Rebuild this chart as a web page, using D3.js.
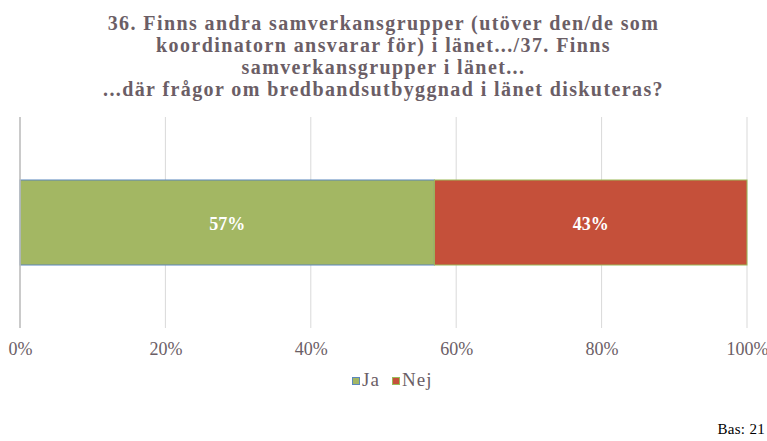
<!DOCTYPE html>
<html><head><meta charset="utf-8">
<script src="https://cdn.jsdelivr.net/npm/d3@7"></script>
<style>
body{margin:0;background:#fff}
svg{display:block}
</style>
</head><body>
<svg id="c" width="767" height="441" font-family="Liberation Serif"></svg>
<script>
const categories = ["Q36/37"];
const seriesNames = ["Ja", "Nej"];
const seriesValues = [[57], [43]];
const tickValues = [0, 20, 40, 60, 80, 100];
const tickLabels = ["0%", "20%", "40%", "60%", "80%", "100%"];
const titleLines = [
  "36. Finns andra samverkansgrupper (utöver den/de som",
  "koordinatorn ansvarar för) i länet.../37. Finns",
  "samverkansgrupper i länet...",
  "...där frågor om bredbandsutbyggnad i länet diskuteras?"
];
const baseText = "Bas: 21";

const fills = ["#A3B763", "#C5503A"];
const strokes = ["#5B87BD", "#9BBB59"];
const textCol = "#6B5E66";

const svg = d3.select("#c");
const x = d3.scaleLinear().domain([0, 100]).range([20, 747]);
const y = d3.scaleBand().domain(categories).range([117, 328]).paddingInner(0).paddingOuter(0.741);

function serif(sel, size, bold, spacing) {
  sel.attr("font-family", "Liberation Serif")
     .style("font-family", '"Liberation Serif"')
     .style("font-size", size + "px");
  if (bold) sel.style("font-weight", "bold");
  if (spacing) sel.style("letter-spacing", spacing + "px");
  return sel;
}

// title
const title = svg.append("g").selectAll("text").data(titleLines).join("text")
  .attr("x", 383.5).attr("y", (d, i) => 30 + i * 22)
  .attr("text-anchor", "middle")
  .attr("fill", textCol).text(d => d);
serif(title, 20, true, 1.4);

// grid
svg.append("g").selectAll("line").data(tickValues).join("line")
  .attr("x1", d => x(d)).attr("x2", d => x(d))
  .attr("y1", 117).attr("y2", 328)
  .attr("stroke", "#D9D9D9").attr("stroke-width", 1);

// stacked bars
const stackData = categories.map((c, ci) => {
  const o = { cat: c };
  seriesNames.forEach((s, si) => o[s] = seriesValues[si][ci]);
  return o;
});
const stacked = d3.stack().keys(seriesNames)(stackData);
const bh = y.bandwidth();

stacked.forEach((layer, si) => {
  const g = svg.append("g");
  g.selectAll("rect").data(layer).join("rect")
    .attr("x", d => x(d[0])).attr("width", d => x(d[1]) - x(d[0]))
    .attr("y", d => y(d.data.cat)).attr("height", bh)
    .attr("fill", fills[si]).attr("stroke", strokes[si]).attr("stroke-width", 1);
  const lab = g.selectAll("text").data(layer).join("text")
    .attr("x", d => (x(d[0]) + x(d[1])) / 2)
    .attr("y", d => y(d.data.cat) + bh / 2 + 7)
    .attr("text-anchor", "middle")
    .attr("fill", "#fff").text(d => Math.round(d[1] - d[0]) + "%");
  serif(lab, 18, true);
});

// category axis line
svg.append("line").attr("x1", 20).attr("x2", 20).attr("y1", 117).attr("y2", 328)
  .attr("stroke", "#BFBFBF").attr("stroke-width", 1.5);

// x axis labels
const axis = d3.axisBottom(x).tickValues(tickValues).tickFormat((d, i) => tickLabels[i]).tickSize(0).tickPadding(0);
const ax = svg.append("g").attr("transform", "translate(0,342)").call(axis);
ax.select(".domain").remove();
ax.attr("font-family", "Liberation Serif").attr("font-size", 18);
serif(ax.selectAll("text").attr("fill", textCol), 18, false);

// legend
const legend = svg.append("g");
const legX = [352, 392];
seriesNames.forEach((n, i) => {
  legend.append("rect").attr("x", legX[i] + 0.5).attr("y", 377.5).attr("width", 7).attr("height", 7)
    .attr("fill", fills[i]).attr("stroke", strokes[i]).attr("stroke-width", 1);
  serif(legend.append("text").attr("x", legX[i] + 10).attr("y", 386)
    .attr("fill", textCol).text(n), 19, false, 1);
});

serif(svg.append("text").attr("x", 765).attr("y", 434).attr("text-anchor", "end")
  .attr("fill", "#000").text(baseText), 15, false, 0.3);
</script>
</body></html>
